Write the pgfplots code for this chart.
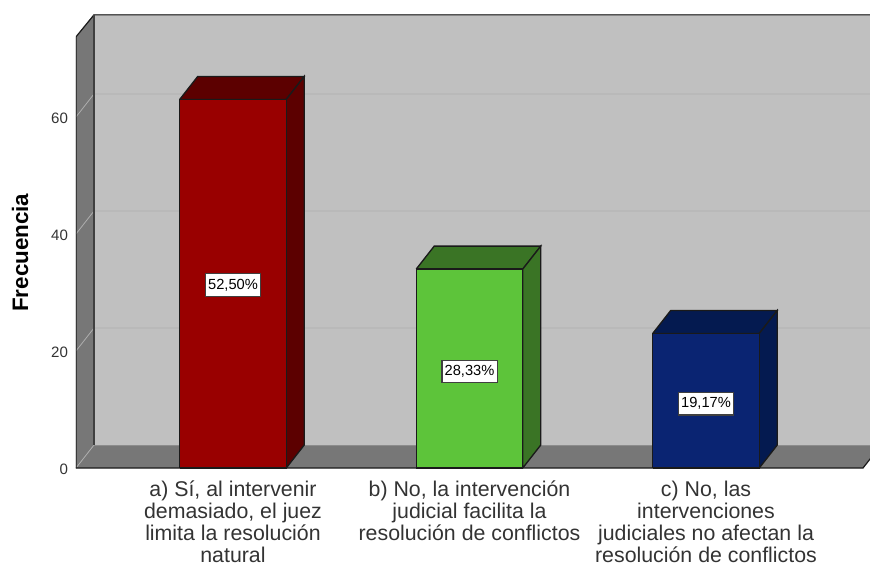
\documentclass[border=0pt]{standalone}
\usepackage{fontspec}
\setmainfont{Liberation Sans}
\usepackage{pgfplots}
\pgfplotsset{compat=1.18}
\definecolor{wall}{HTML}{C0C0C0}
\definecolor{side}{HTML}{777777}
\definecolor{gridc}{HTML}{AEAEAE}
\definecolor{edge}{HTML}{1A1A1A}
\definecolor{lab}{HTML}{333333}
\definecolor{redF}{HTML}{990000}
\definecolor{redS}{HTML}{5C0000}
\definecolor{greenF}{HTML}{5DC43A}
\definecolor{greenS}{HTML}{3A7425}
\definecolor{blueF}{HTML}{0A2472}
\definecolor{blueS}{HTML}{041A50}
\begin{document}
\begin{tikzpicture}[x=0.75pt,y=0.75pt]
% page frame, 870x567 with the origin at the chart's zero line
\path[use as bounding box] (-76,-99) rectangle (794,468);
\begin{axis}[
    at={(0,0)}, anchor=south west,
    scale only axis,
    width=595.5pt, height=340.5pt,
    xmin=-0.6638, xmax=2.6934,
    ymin=0, ymax=77.6,
    axis line style={draw=none},
    major tick length=0pt,
    xtick={0,1,2},
    xticklabels={
        {a) Sí, al intervenir\\demasiado, el juez\\limita la resolución\\natural},
        {b) No, la intervención\\judicial facilita la\\resolución de conflictos},
        {c) No, las\\intervenciones\\judiciales no afectan la\\resolución de conflictos}
    },
    x tick label style={align=center, font=\fontsize{16pt}{16.6pt}\selectfont,
        text=lab, anchor=north, yshift=-6pt},
    ytick={0,20,40,60},
    y tick label style={font=\fontsize{11.3pt}{13pt}\selectfont, text=lab,
        /pgf/number format/assume math mode=true, xshift=-2.5pt, yshift=-1pt},
    every axis y label/.style={at={(axis cs:-0.90,36.8)}, rotate=90, anchor=center},
    ylabel={\fontsize{16.8pt}{19pt}\selectfont\bfseries Frecuencia},
]
% left wall, floor and back wall
\addplot[fill=wall, draw=none] coordinates {(-0.5877,3.93) (2.74,3.93) (2.74,77.6) (-0.5877,77.6) (-0.5877,3.93)};
\addplot[fill=side, draw=none] coordinates {(-0.6638,0) (-0.5877,3.93) (-0.5877,77.6) (-0.6638,73.7) (-0.6638,0)};
\addplot[fill=side, draw=none] coordinates {(-0.6638,0) (2.6638,0) (2.74,3.93) (-0.5877,3.93) (-0.6638,0)};
% grid on the walls
\addplot[gridc, line width=0.6pt] coordinates {(-0.6638,20) (-0.5877,23.93) (2.74,23.93)};
\addplot[gridc, line width=0.6pt] coordinates {(-0.6638,40) (-0.5877,43.93) (2.74,43.93)};
\addplot[gridc, line width=0.6pt] coordinates {(-0.6638,60) (-0.5877,63.93) (2.74,63.93)};
\addplot[gridc, line width=0.6pt] coordinates {(-0.6638,0) (-0.5877,3.93)};
\addplot[black!45, line width=0.7pt] coordinates {(-0.5877,3.93) (2.74,3.93)};
% frame edges
\addplot[edge, line width=0.9pt] coordinates {(-0.6638,0) (-0.6638,73.7) (-0.5877,77.45) (2.74,77.45)};
\addplot[black!75, line width=0.8pt] coordinates {(-0.5877,3.93) (-0.5877,77.45)};
\addplot[edge, line width=0.9pt] coordinates {(-0.6638,0) (2.6638,0) (2.74,3.93)};
% bar a = 63
\addplot[fill=redS, draw=edge, line width=1pt] coordinates {(-0.2252,63) (-0.1491,66.93) (0.3013,66.93) (0.2252,63) (-0.2252,63)};
\addplot[fill=redS, draw=edge, line width=1pt] coordinates {(0.2252,0) (0.3013,3.93) (0.3013,66.93) (0.2252,63) (0.2252,0)};
\addplot[fill=redF, draw=edge, line width=1pt] coordinates {(-0.2252,0) (0.2252,0) (0.2252,63) (-0.2252,63) (-0.2252,0)};
% bar b = 34
\addplot[fill=greenS, draw=edge, line width=1pt] coordinates {(0.7748,34) (0.8509,37.93) (1.3013,37.93) (1.2252,34) (0.7748,34)};
\addplot[fill=greenS, draw=edge, line width=1pt] coordinates {(1.2252,0) (1.3013,3.93) (1.3013,37.93) (1.2252,34) (1.2252,0)};
\addplot[fill=greenF, draw=edge, line width=1pt] coordinates {(0.7748,0) (1.2252,0) (1.2252,34) (0.7748,34) (0.7748,0)};
% bar c = 23
\addplot[fill=blueS, draw=edge, line width=1pt] coordinates {(1.7748,23) (1.8509,26.93) (2.3013,26.93) (2.2252,23) (1.7748,23)};
\addplot[fill=blueS, draw=edge, line width=1pt] coordinates {(2.2252,0) (2.3013,3.93) (2.3013,26.93) (2.2252,23) (2.2252,0)};
\addplot[fill=blueF, draw=edge, line width=1pt] coordinates {(1.7748,0) (2.2252,0) (2.2252,23) (1.7748,23) (1.7748,0)};
% percentage labels
\tikzset{pct/.style={fill=white, draw=black!75, line width=0.8pt, inner xsep=2pt, inner ysep=0pt,
    minimum height=17pt, text=black, font=\fontsize{11pt}{12pt}\selectfont}}
\node[pct] at (axis cs:0,31.3) {52,50\%};
\node[pct] at (axis cs:1,16.5) {28,33\%};
\node[pct] at (axis cs:2,11) {19,17\%};
\end{axis}
\end{tikzpicture}
\end{document}
